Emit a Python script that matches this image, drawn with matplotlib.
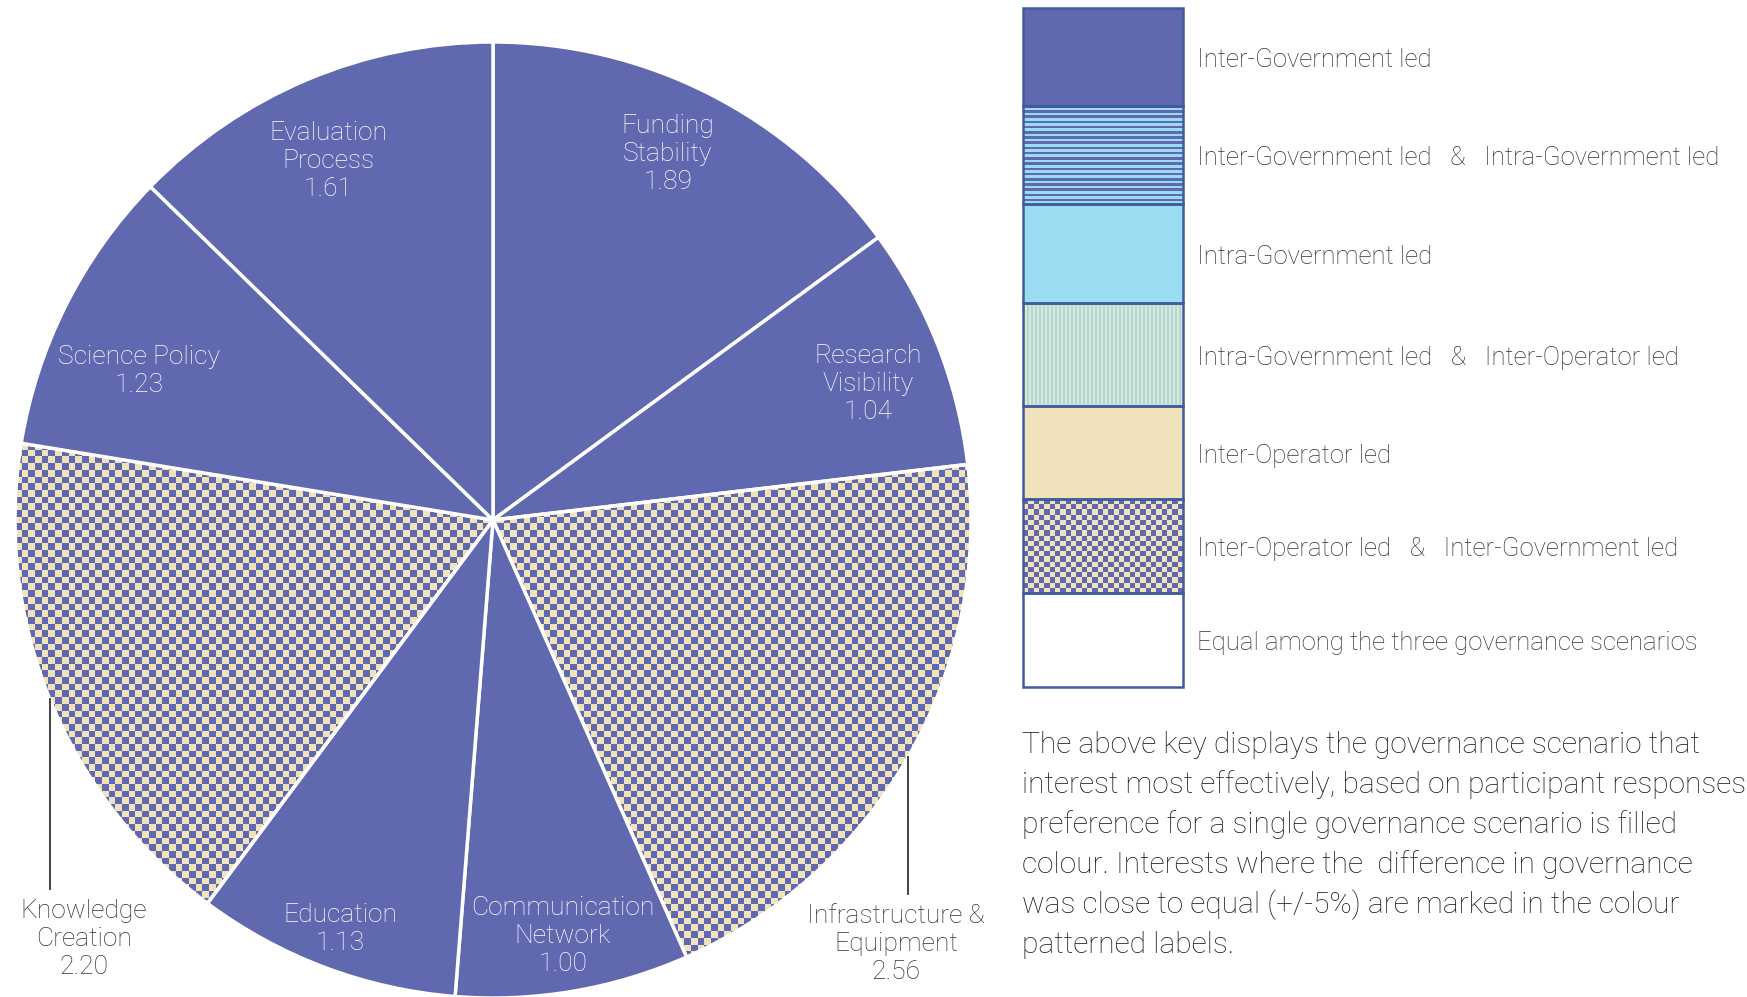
import numpy as np
import matplotlib.pyplot as plt
from matplotlib.colors import ListedColormap
from matplotlib.patches import Rectangle

# slice data (clockwise from top)
categories = ["Funding\nStability", "Research\nVisibility", "Infrastructure &\nEquipment",
              "Communication\nNetwork", "Education", "Knowledge\nCreation",
              "Science Policy", "Evaluation\nProcess"]
values = [1.89, 1.04, 2.56, 1.00, 1.13, 2.20, 1.23, 1.61]
# which governance scenario each interest prefers
scenarios = ["inter_gov", "inter_gov", "op_gov", "inter_gov",
             "inter_gov", "op_gov", "inter_gov", "inter_gov"]

legend_labels = ["Inter-Government led",
                 "Inter-Government led   &   Intra-Government led",
                 "Intra-Government led",
                 "Intra-Government led   &   Inter-Operator led",
                 "Inter-Operator led",
                 "Inter-Operator led   &   Inter-Government led",
                 "Equal among the three governance scenarios"]
legend_fills = ["inter_gov", "gov_intra", "intra_gov", "intra_op",
                "inter_op", "op_gov", "equal"]

note_lines = ["The above key displays the governance scenario that",
              "interest most effectively, based on participant responses",
              "preference for a single governance scenario is filled",
              "colour. Interests where the  difference in governance",
              "was close to equal (+/-5%) are marked in the colour",
              "patterned labels."]

BLUE = '#6068B0'
BEIGE = '#F0E2BA'
LBLUE = '#9ADCF2'
EDGE = '#3F5C9C'
GREY = '#333333'
FONT = 'Roboto'

W, H = 1747, 997
fig = plt.figure(figsize=(W / 100, H / 100), dpi=100)
fig.patch.set_facecolor('white')

#pie axes: centre (493,520) px, radius 478 px
cx, cy, r = 493, 520, 478
ax = fig.add_axes([(cx - r) / W, (H - cy - r) / H, 2 * r / W, 2 * r / H])

solid = {"inter_gov": BLUE}
face = [solid.get(s, 'none') for s in scenarios]
wedges, _ = ax.pie(values, startangle=90, counterclock=False, radius=1,
                   colors=face, wedgeprops=dict(edgecolor='white', linewidth=2.5))

def checker(rows, cols):
    return np.add.outer(np.arange(rows), np.arange(cols)) % 2

two_tone = ListedColormap([BLUE, BEIGE])
n_cells = 143
for w, s in zip(wedges, scenarios):
    if s == "op_gov":
        im = ax.imshow(checker(n_cells, n_cells), extent=(-1, 1, -1, 1), cmap=two_tone,
                       interpolation='nearest', zorder=0.9)
        im.set_clip_path(w)

ax.set_xlim(-1, 1)
ax.set_ylim(-1, 1)
ax.set_aspect('equal')
ax.axis('off')

# label positions in pie units (placed by hand like the original)
label_pos = [(0.366, 0.766), (0.785, 0.285), (0.843, -0.887), (0.146, -0.870),
             (-0.320, -0.856), (-0.856, -0.877), (-0.741, 0.312), (-0.345, 0.751)]

total = sum(values)
cum = np.cumsum(values)
for i in range(len(values)):
    txt = "{}\n{:.2f}".format(categories[i], values[i])
    inside = scenarios[i] == "inter_gov"
    ax.text(label_pos[i][0], label_pos[i][1], txt, ha='center', va='center',
            color='white' if inside else GREY, fontsize=19, family=FONT,
            fontweight='light', linespacing=1.2, zorder=5)
    if not inside:
        #leader line from slice edge down to label
        mid = np.deg2rad(90 - 360 * (cum[i] - values[i] / 2) / total)
        x0, y0 = np.cos(mid), np.sin(mid)
        ax.plot([x0, x0], [y0, label_pos[i][1] + 0.105], color=GREY, lw=1.3,
                zorder=5, clip_on=False)

# overlay axes in pixel coords for key + note
ov = fig.add_axes([0, 0, 1, 1])
ov.axis('off')

box_edges = [8, 106, 204, 303, 406, 499, 593, 687]
bx0, bx1 = 1023, 1183

patterns = {
    "inter_gov": (np.zeros((1, 1)), ListedColormap([BLUE])),
    "gov_intra": (np.arange(38)[:, None] % 2 * np.ones((1, 2)), ListedColormap([BLUE, LBLUE])),
    "intra_gov": (np.zeros((1, 1)), ListedColormap([LBLUE])),
    "intra_op": (np.ones((2, 1)) * (np.arange(80)[None, :] % 2), ListedColormap([LBLUE, BEIGE])),
    "inter_op": (np.zeros((1, 1)), ListedColormap([BEIGE])),
    "op_gov": (checker(18, 30), two_tone),
    "equal": (np.zeros((1, 1)), ListedColormap(['white'])),
}

for i, (lab, fill) in enumerate(zip(legend_labels, legend_fills)):
    y0, y1 = box_edges[i], box_edges[i + 1]
    arr, cm = patterns[fill]
    ov.imshow(arr, extent=(bx0, bx1, y1, y0), cmap=cm, vmin=0, vmax=1,
              interpolation='nearest', aspect='auto', zorder=1)
    ov.add_patch(Rectangle((bx0, y0), bx1 - bx0, y1 - y0, fill=False,
                           edgecolor=EDGE, lw=1.8, zorder=2))
    ov.text(1197, (y0 + y1) / 2 + 10, lab, ha='left', va='baseline', color=GREY,
            fontsize=18.5, family=FONT, fontweight='light')

for j, line in enumerate(note_lines):
    ov.text(1022, 753 + 40 * j, line, ha='left', va='baseline', color='#1a1a1a',
            fontsize=21.5, family=FONT, fontweight='light')

ov.set_xlim(0, W)
ov.set_ylim(H, 0)

plt.savefig('out.png', dpi=100)
